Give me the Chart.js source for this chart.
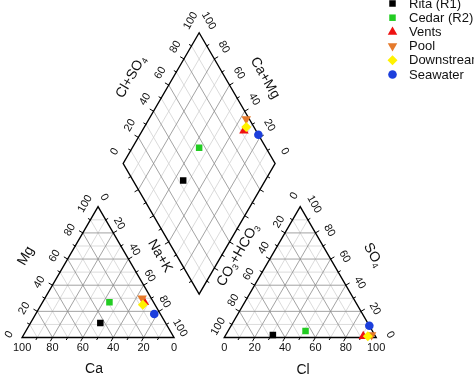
<!DOCTYPE html>
<html><head><meta charset="utf-8">
<script src="https://cdn.jsdelivr.net/npm/chart.js@4.4.0/dist/chart.umd.min.js"></script>
<style>html,body{margin:0;padding:0;background:#fff;}canvas{display:block;}</style>
</head><body>
<canvas id="c" width="474" height="376"></canvas>
<script>
// ---- data (percent of meq) ----
const seriesNames = ['Rita (R1)', 'Cedar (R2)', 'Vents', 'Pool', 'Downstream', 'Seawater'];
const caPct   = [43, 29, 6, 6, 8, 4];
const mgPct   = [11, 27, 27, 30, 25, 18];
const naKPct  = [46, 44, 67, 64, 67, 78];
const clPct   = [31, 51, 91, 96, 94, 91];
const so4Pct  = [2, 5, 1, 2, 1, 9];
const hco3Pct = [67, 44, 8, 2, 5, 0];
const tickLabels = [0, 20, 40, 60, 80, 100];

// ---- styles ----
const colors = ['#000000', '#22cc22', '#ee1111', '#e57a2c', '#fff200', '#1c3fdc'];
const shapes = ['rect', 'rect', 'triangle', 'triangle', 'rectRot', 'circle'];
const rotations = [0, 0, 0, 180, 0, 0];
const radii = [4.6, 4.6, 5.5, 5.5, 5, 4.3];

// ---- geometry (units: triangle side = 100) ----
const H = Math.sqrt(3) / 2;
const GAP = 33.1;
const Bx = 100 + GAP / 2, By = GAP / 2 * Math.sqrt(3);
function leftTri(ca, mg, na) { const s = ca + mg + na; mg = mg / s * 100; na = na / s * 100; return { x: na + mg / 2, y: mg * H }; }
function rightTri(cl, so4, hc) { const s = cl + so4 + hc; cl = cl / s * 100; so4 = so4 / s * 100; return { x: 100 + GAP + cl + so4 / 2, y: so4 * H }; }
function diamond(caMg, clSo4) { return { x: Bx + (clSo4 - caMg) / 2, y: By + (clSo4 + caMg) * H }; }

const SC = 1.555;
const XMIN = -17 / SC, XMAX = XMIN + 474 / SC;
const YMAX = 342 / SC, YMIN = YMAX - 376 / SC;

const datasets = seriesNames.map((name, i) => {
  const cs = caPct[i] + mgPct[i] + naKPct[i];
  const as = clPct[i] + so4Pct[i] + hco3Pct[i];
  const caMg = (caPct[i] + mgPct[i]) / cs * 100;
  const clSo4 = (clPct[i] + so4Pct[i]) / as * 100;
  return {
    label: name,
    data: [leftTri(caPct[i], mgPct[i], naKPct[i]), rightTri(clPct[i], so4Pct[i], hco3Pct[i]), diamond(caMg, clSo4)],
    pointStyle: shapes[i], pointRotation: rotations[i], pointRadius: radii[i],
    backgroundColor: colors[i], borderColor: colors[i], borderWidth: 0, showLine: false,
    order: [6, 5, 4, 3, 2, 1][i]
  };
});

const FONT = '"Liberation Sans", Arial, sans-serif';

function richText(ctx, parts, x, y, angleDeg, size) {
  ctx.save();
  ctx.translate(x, y);
  ctx.rotate(angleDeg * Math.PI / 180);
  let w = 0;
  parts.forEach(p => { ctx.font = (p.sub ? size * 0.62 : size) + 'px ' + FONT; w += ctx.measureText(p.t).width; });
  let cx = -w / 2;
  ctx.textBaseline = 'middle'; ctx.textAlign = 'left'; ctx.fillStyle = '#111';
  parts.forEach(p => {
    ctx.font = (p.sub ? size * 0.62 : size) + 'px ' + FONT;
    ctx.fillText(p.t, cx, p.sub ? size * 0.3 : 0);
    cx += ctx.measureText(p.t).width;
  });
  ctx.restore();
}

const piperPlugin = {
  id: 'piper',
  beforeDatasetsDraw(chart) {
    const ctx = chart.ctx, xs = chart.scales.x, ys = chart.scales.y;
    const P = (p) => [xs.getPixelForValue(p.x), ys.getPixelForValue(p.y)];
    const line = (a, b, col, lw) => { const A = P(a), B = P(b); ctx.beginPath(); ctx.moveTo(A[0], A[1]); ctx.lineTo(B[0], B[1]); ctx.strokeStyle = col; ctx.lineWidth = lw; ctx.stroke(); };
    const major = '#8c8c8c', minor = '#d2d2d2';
    ctx.save();
    ctx.lineCap = 'round';
    // triangle grids
    [0, 100 + GAP].forEach(off => {
      [10, 30, 50, 70, 90, 20, 40, 60, 80].forEach(k => {
        const col = k % 20 === 0 ? major : minor, lw = 0.8;
        line({ x: off + k / 2, y: k * H }, { x: off + 100 - k / 2, y: k * H }, col, lw);
        line({ x: off + k, y: 0 }, { x: off + k + (100 - k) / 2, y: (100 - k) * H }, col, lw);
        line({ x: off + 100 - k, y: 0 }, { x: off + (100 - k) / 2, y: (100 - k) * H }, col, lw);
      });
    });
    // diamond grid
    [10, 30, 50, 70, 90, 20, 40, 60, 80].forEach(k => {
      const col = k % 20 === 0 ? major : minor, lw = 0.8;
      line(diamond(0, k), diamond(100, k), col, lw);
      line(diamond(k, 0), diamond(k, 100), col, lw);
    });
    // frames
    const frame = (pts) => { ctx.beginPath(); pts.forEach((p, i) => { const q = P(p); i ? ctx.lineTo(q[0], q[1]) : ctx.moveTo(q[0], q[1]); }); ctx.closePath(); ctx.strokeStyle = '#000'; ctx.lineWidth = 1.4; ctx.lineJoin = 'miter'; ctx.stroke(); };
    frame([{ x: 0, y: 0 }, { x: 100, y: 0 }, { x: 50, y: 100 * H }]);
    frame([{ x: 100 + GAP, y: 0 }, { x: 200 + GAP, y: 0 }, { x: 150 + GAP, y: 100 * H }]);
    frame([diamond(0, 0), diamond(0, 100), diamond(100, 100), diamond(100, 0)]);
    // ticks (outward, every 10)
    const tick = (p, dx, dy, len) => { const q = P(p); ctx.beginPath(); ctx.moveTo(q[0], q[1]); ctx.lineTo(q[0] + dx * len, q[1] + dy * len); ctx.strokeStyle = '#000'; ctx.lineWidth = 1; ctx.stroke(); };
    for (let k = 10; k < 100; k += 10) {
      const L = k % 20 === 0 ? 4 : 2.5;
      [0, 100 + GAP].forEach(off => {
        tick({ x: off + k, y: 0 }, -0.5, H, L);
        tick({ x: off + k / 2, y: k * H }, -H, -0.5, L);
        tick({ x: off + 100 - k / 2, y: k * H }, H, -0.5, L);
      });
      tick(diamond(100, k), -H, -0.5, L);
      tick(diamond(k, 100), H, -0.5, L);
      tick(diamond(0, k), H, 0.5, L);
      tick(diamond(k, 0), -H, 0.5, L);
    }
    ctx.restore();

    // tick labels
    ctx.save();
    const lab = (txt, p, ox, oy, ang) => {
      const q = P(p);
      ctx.save(); ctx.translate(q[0] + ox, q[1] + oy); ctx.rotate(ang * Math.PI / 180);
      ctx.font = '11px ' + FONT; ctx.fillStyle = '#111'; ctx.textAlign = 'center'; ctx.textBaseline = 'middle';
      ctx.fillText(String(txt), 0, 0); ctx.restore();
    };
    tickLabels.forEach(v => {
      // left triangle
      lab(v, { x: 100 - v, y: 0 }, 0, 10, 0);                                  // Ca
      lab(v, { x: v / 2, y: v * H }, -13, -3, -60);                             // Mg
      lab(v, { x: v + (100 - v) / 2, y: (100 - v) * H }, 6, -9.5, 60);          // Na+K
      // right triangle
      lab(v, { x: 100 + GAP + v, y: 0 }, 0, 10, 0);                            // Cl
      lab(v, { x: 100 + GAP + (100 - v) / 2, y: (100 - v) * H }, -6, -11, -60); // CO3+HCO3
      lab(v, { x: 200 + GAP - v / 2, y: v * H }, 14, -2.5, 60);                // SO4
      // diamond
      lab(v, diamond(100, v), -8.5, -12, -60);                                  // Cl+SO4
      lab(v, diamond(v, 100), 9.5, -12, 60);                                    // Ca+Mg
    });
    ctx.restore();

    // axis titles
    richText(ctx, [{ t: 'Mg' }], 26, 256, -60, 14);
    richText(ctx, [{ t: 'Na+K' }], 160, 256, 60, 14);
    richText(ctx, [{ t: 'Ca' }], 94, 369, 0, 14);
    richText(ctx, [{ t: 'CO' }, { t: '3', sub: true }, { t: '+HCO' }, { t: '3', sub: true }], 238, 255, -60, 14);
    richText(ctx, [{ t: 'SO' }, { t: '4', sub: true }], 373, 255, 60, 14);
    richText(ctx, [{ t: 'Cl' }], 303, 370, 0, 14);
    richText(ctx, [{ t: 'Cl+SO' }, { t: '4', sub: true }], 131, 77, -60, 14);
    richText(ctx, [{ t: 'Ca+Mg' }], 265, 78, 60, 14);
  },
  afterDraw(chart) {
    const ctx = chart.ctx;
    ctx.save();
    chart.data.datasets.forEach((ds, i) => {
      const y = 3.5 + i * 14.2;
      ctx.fillStyle = ds.backgroundColor; ctx.strokeStyle = ds.borderColor;
      Chart.helpers.drawPoint(ctx, { pointStyle: ds.pointStyle, rotation: ds.pointRotation, radius: ds.pointRadius, borderWidth: 0 }, 392.5, y);
      ctx.font = '13px ' + FONT; ctx.fillStyle = '#111'; ctx.textAlign = 'left'; ctx.textBaseline = 'middle';
      ctx.fillText(ds.label, 409, y + 0.5);
    });
    ctx.restore();
  }
};

new Chart(document.getElementById('c'), {
  type: 'scatter',
  data: { datasets },
  options: {
    responsive: false, animation: false, devicePixelRatio: 1,
    layout: { padding: 0 },
    plugins: { legend: { display: false }, tooltip: { enabled: false } },
    scales: {
      x: { type: 'linear', display: false, min: XMIN, max: XMAX },
      y: { type: 'linear', display: false, min: YMIN, max: YMAX }
    }
  },
  plugins: [piperPlugin]
});
</script>
</body></html>
